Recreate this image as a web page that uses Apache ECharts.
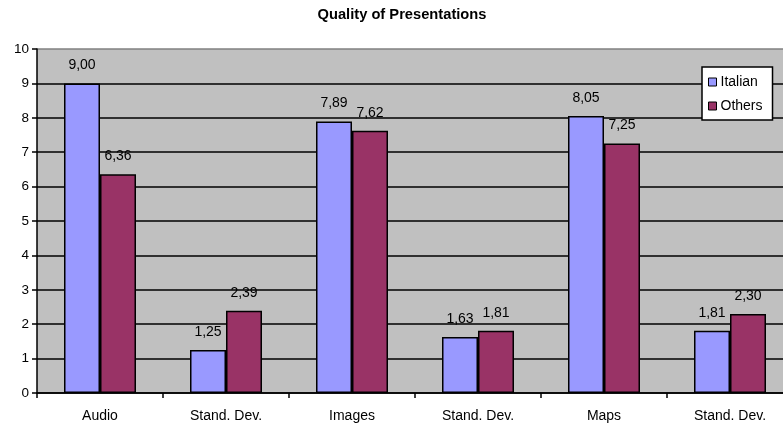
<!DOCTYPE html>
<html>
<head>
<meta charset="utf-8">
<script src="https://cdn.jsdelivr.net/npm/echarts@6/dist/echarts.min.js"></script>
<style>
  html, body { margin: 0; padding: 0; background: #ffffff; overflow: hidden; }
  #wrap { width: 783px; height: 427px; overflow: hidden; }
  /* the plot runs slightly past the right edge, so the canvas is wider than the view */
  #chart { width: 793px; height: 427px; }
</style>
</head>
<body>
<div id="wrap"><div id="chart"></div></div>
<script>
// Categories along the x axis
const categories = ['Audio', 'Stand. Dev.', 'Images', 'Stand. Dev.', 'Maps', 'Stand. Dev.'];
// Mean ratings and standard deviations per group
const italian = [9.00, 1.25, 7.89, 1.63, 8.05, 1.81];
const others = [6.36, 2.39, 7.62, 1.81, 7.25, 2.30];
const seriesNames = ['Italian', 'Others'];
const yTicks = [0, 1, 2, 3, 4, 5, 6, 7, 8, 9, 10];

const font = 'Arial, "Liberation Sans", sans-serif';
const fmt = p => p.value.toFixed(2).replace('.', ',');

const chart = echarts.init(document.getElementById('chart'), null, { renderer: 'canvas' });

// grid line colours: black for every level, grey for the top edge
const splitColors = yTicks.map((t, i) => i === yTicks.length - 1 ? '#808080' : '#000000');

const labelStyle = {
  show: true,
  position: 'top',
  distance: 11,
  color: '#000',
  fontFamily: font,
  fontSize: 14,
  formatter: fmt
};

chart.setOption({
  animation: false,
  backgroundColor: '#ffffff',
  title: {
    text: 'Quality of Presentations',
    left: 397,
    top: 2,
    textAlign: 'center',
    textStyle: { fontFamily: font, fontSize: 14.7, fontWeight: 'bold', color: '#000' }
  },
  legend: {
    orient: 'vertical',
    left: 702,
    top: 67,
    padding: [8, 10, 7, 6],
    itemGap: 10,
    itemWidth: 8,
    itemHeight: 8,
    icon: 'rect',
    backgroundColor: '#ffffff',
    borderColor: '#000',
    borderWidth: 1.5,
    borderRadius: 0,
    textStyle: { fontFamily: font, fontSize: 14, color: '#000', padding: [0, 0, 0, -1] },
    itemStyle: { borderColor: '#000', borderWidth: 1 },
    data: seriesNames
  },
  grid: {
    left: 37,
    top: 49,
    right: 0,
    bottom: 34,
    show: true,
    backgroundColor: '#c0c0c0',
    borderWidth: 0
  },
  xAxis: {
    type: 'category',
    data: categories,
    boundaryGap: true,
    axisLine: { show: true, lineStyle: { color: '#000', width: 1.5 } },
    axisTick: { show: true, inside: false, length: 5, alignWithLabel: false, lineStyle: { color: '#000', width: 1.5 } },
    axisLabel: { color: '#000', fontFamily: font, fontSize: 14, margin: 16, interval: 0 },
    splitLine: { show: false }
  },
  yAxis: {
    type: 'value',
    min: 0,
    max: 10,
    interval: 1,
    axisLine: { show: true, lineStyle: { color: '#000', width: 1.5 } },
    axisTick: { show: true, length: 5, lineStyle: { color: '#000', width: 1.5 } },
    axisLabel: { color: '#000', fontFamily: font, fontSize: 13.5, margin: 8 },
    splitLine: { show: true, lineStyle: { color: splitColors, width: 1.5 } }
  },
  series: [
    {
      name: seriesNames[0],
      type: 'bar',
      data: italian,
      barWidth: 36,
      barGap: '0%',
      itemStyle: { color: '#9999ff', borderColor: '#000', borderWidth: 1.5 },
      label: labelStyle
    },
    {
      name: seriesNames[1],
      type: 'bar',
      data: others,
      barWidth: 36,
      barGap: '0%',
      itemStyle: { color: '#993366', borderColor: '#000', borderWidth: 1.5 },
      label: labelStyle
    }
  ]
});
</script>
</body>
</html>
